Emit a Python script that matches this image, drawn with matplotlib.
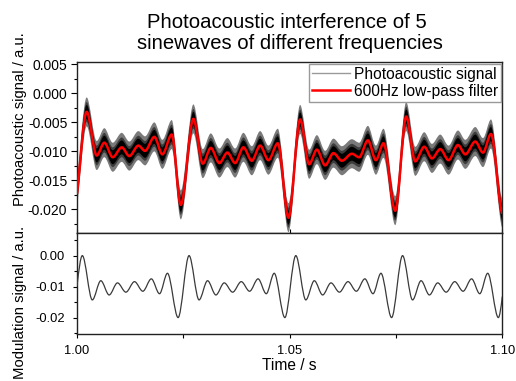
import numpy as np
import matplotlib
matplotlib.use("Agg")
import matplotlib.pyplot as plt
from matplotlib.path import Path
from matplotlib.patches import PathPatch
from matplotlib.lines import Line2D
from matplotlib.ticker import MultipleLocator, FixedLocator, FormatStrFormatter

plt.rcParams['font.family'] = ['Liberation Sans', 'DejaVu Sans']
plt.rcParams['axes.unicode_minus'] = False
plt.rcParams['hatch.linewidth'] = 0.7

# ---------------- data (extrema of the curves) ----------------
# 600 Hz low-pass filtered photoacoustic signal (upper panel)
filt_time = [1.0000,
             1.00228, 1.00463, 1.00643, 1.00840, 1.01052, 1.01230, 1.01443, 1.01600, 1.01819, 1.02007, 1.02228, 1.02440,
             1.02737, 1.02957, 1.03146, 1.03348, 1.03536, 1.03718, 1.03913, 1.04110, 1.04306, 1.04501, 1.04722, 1.04972,
             1.05247, 1.05459, 1.05640, 1.05835, 1.06030, 1.06228, 1.06463, 1.06635, 1.06840, 1.07028, 1.07207, 1.07482,
             1.07741, 1.07953, 1.08165, 1.08346, 1.08541, 1.08737, 1.08958, 1.09130, 1.09365, 1.09546, 1.09734,
             1.1000]
filt_value = [-0.0173,
              -0.0032, -0.0107, -0.0085, -0.0110, -0.0093, -0.0108, -0.0090, -0.0099, -0.0075, -0.0105, -0.0071, -0.0192,
              -0.0044, -0.0121, -0.0094, -0.0120, -0.0102, -0.0120, -0.0093, -0.0116, -0.0090, -0.0115, -0.0086, -0.0214,
              -0.0045, -0.0122, -0.0097, -0.0124, -0.0103, -0.0116, -0.0104, -0.0110, -0.0081, -0.0115, -0.0086, -0.0202,
              -0.0040, -0.0117, -0.0092, -0.0112, -0.0096, -0.0115, -0.0089, -0.0105, -0.0083, -0.0102, -0.0070,
              -0.0207]

# modulation signal (lower panel)
mod_time = [1.0000,
            1.00125, 1.00360, 1.00560, 1.00756, 1.00952, 1.01150, 1.01352, 1.01548, 1.01748, 1.01940, 1.02127, 1.02377,
            1.02635, 1.02870, 1.03070, 1.03266, 1.03462, 1.03660, 1.03862, 1.04058, 1.04258, 1.04450, 1.04637, 1.04887,
            1.05145, 1.05380, 1.05580, 1.05776, 1.05972, 1.06170, 1.06372, 1.06568, 1.06768, 1.06960, 1.07147, 1.07397,
            1.07655, 1.07890, 1.08090, 1.08286, 1.08482, 1.08680, 1.08882, 1.09078, 1.09278, 1.09470, 1.09657, 1.09907,
            1.1000]
mod_value = [-0.0098,
             0.0000, -0.0143, -0.0081, -0.0127, -0.0088, -0.0118, -0.0084, -0.0115, -0.0075, -0.0123, -0.0057, -0.0200,
             0.0000, -0.0143, -0.0081, -0.0127, -0.0088, -0.0118, -0.0084, -0.0115, -0.0075, -0.0123, -0.0057, -0.0200,
             0.0000, -0.0143, -0.0081, -0.0127, -0.0088, -0.0118, -0.0084, -0.0115, -0.0075, -0.0123, -0.0057, -0.0200,
             0.0000, -0.0143, -0.0081, -0.0127, -0.0088, -0.0118, -0.0084, -0.0115, -0.0075, -0.0123, -0.0057, -0.0200,
             -0.0132]

x_ticks = [1.00, 1.05, 1.10]
x_minor = [1.025, 1.075]
legend_labels = ["Photoacoustic signal", "600Hz low-pass filter"]
title_lines = ["Photoacoustic interference of 5", "sinewaves of different frequencies"]


# ---------------- smooth (Bezier) connection of the read extrema ----------------
def segments(t, v, k_start, k_end):
    t = np.asarray(t, float)
    v = np.asarray(v, float)
    s = np.zeros_like(t)
    s[0] = k_start * (v[1] - v[0]) / (t[1] - t[0])
    s[-1] = k_end * (v[-1] - v[-2]) / (t[-1] - t[-2])
    segs = []
    for i in range(len(t) - 1):
        dt = t[i + 1] - t[i]
        p0 = (t[i], v[i])
        c1 = (t[i] + dt / 3, v[i] + s[i] * dt / 3)
        c2 = (t[i + 1] - dt / 3, v[i + 1] - s[i + 1] * dt / 3)
        p1 = (t[i + 1], v[i + 1])
        segs.append((p0, c1, c2, p1))
    return segs


def line_path(segs):
    verts = [segs[0][0]]
    codes = [Path.MOVETO]
    for p0, c1, c2, p1 in segs:
        verts += [c1, c2, p1]
        codes += [Path.CURVE4] * 3
    return Path(verts, codes)


def band_path(segs, w):
    up = lambda p: (p[0], p[1] + w)
    dn = lambda p: (p[0], p[1] - w)
    verts = [up(segs[0][0])]
    codes = [Path.MOVETO]
    for p0, c1, c2, p1 in segs:
        verts += [up(c1), up(c2), up(p1)]
        codes += [Path.CURVE4] * 3
    verts.append(dn(segs[-1][3]))
    codes.append(Path.LINETO)
    for p0, c1, c2, p1 in reversed(segs):
        verts += [dn(c2), dn(c1), dn(p0)]
        codes += [Path.CURVE4] * 3
    verts.append(verts[0])
    codes.append(Path.CLOSEPOLY)
    return Path(verts, codes)


# ---------------- figure ----------------
W, H = 516, 381
fig = plt.figure(figsize=(W / 100, H / 100), dpi=100)
left, right = 77 / W, 502.3 / W
ax1 = fig.add_axes([left, 1 - 233.3 / H, right - left, (233.3 - 62) / H])
ax2 = fig.add_axes([left, 1 - 334 / H, right - left, (334 - 233.3) / H])

# upper panel: noisy photoacoustic signal rendered as a dense band around the filtered curve
fsegs = segments(filt_time, filt_value, 1.0, 0.2)
ax1.add_patch(PathPatch(band_path(fsegs, 0.0025), facecolor='none', edgecolor='#7a7a7a',
                        hatch='|' * 28, lw=0, zorder=2))
ax1.add_patch(PathPatch(band_path(fsegs, 0.0017), facecolor='#3c3c3c', edgecolor='none', zorder=2))
ax1.add_patch(PathPatch(band_path(fsegs, 0.0012), facecolor='#000000', edgecolor='none', zorder=2))
ax1.add_patch(PathPatch(line_path(fsegs), facecolor='none', edgecolor='#ff0000', lw=1.8, zorder=3))
ax1.set_xlim(1.0, 1.1)
ax1.set_ylim(-0.0241, 0.0054)
ax1.yaxis.set_major_locator(MultipleLocator(0.005))
ax1.yaxis.set_minor_locator(MultipleLocator(0.0025))
ax1.yaxis.set_major_formatter(FormatStrFormatter('%.3f'))
ax1.xaxis.set_major_locator(FixedLocator(x_ticks))
ax1.tick_params(axis='x', which='both', direction='in', length=3, labelbottom=False)
ax1.tick_params(axis='y', which='major', direction='out', length=4, width=0.8, labelsize=10, pad=3)
ax1.tick_params(axis='y', which='minor', direction='out', length=2.2, width=0.8)

handles = [Line2D([], [], color='#9a9a9a', lw=1.0), Line2D([], [], color='#ff0000', lw=1.8)]
leg = ax1.legend(handles, legend_labels, loc='upper right', bbox_to_anchor=(1.0, 1.0),
                 borderaxespad=0.1, fontsize=11.2, handlelength=2.4, handletextpad=0.25,
                 borderpad=0.2, labelspacing=0.12, fancybox=False, framealpha=1)
leg.get_frame().set_edgecolor('#999999')
leg.get_frame().set_linewidth(1.0)
leg.set_zorder(5)

# lower panel
msegs = segments(mod_time, mod_value, 1.5, 1.6)
ax2.add_patch(PathPatch(line_path(msegs), facecolor='none', edgecolor='#3a3a3a', lw=0.9, zorder=3))
ax2.set_xlim(1.0, 1.1)
ax2.set_ylim(-0.0253, 0.0072)
ax2.yaxis.set_major_locator(MultipleLocator(0.01))
ax2.yaxis.set_minor_locator(MultipleLocator(0.005))
ax2.yaxis.set_major_formatter(FormatStrFormatter('%.2f'))
ax2.xaxis.set_major_locator(FixedLocator(x_ticks))
ax2.xaxis.set_minor_locator(FixedLocator(x_minor))
ax2.xaxis.set_major_formatter(FormatStrFormatter('%.2f'))
ax2.tick_params(axis='both', which='major', direction='out', length=3, width=0.8, labelsize=9.3)
ax2.tick_params(axis='y', which='major', pad=6)
ax2.tick_params(axis='x', which='major', pad=5)
ax2.tick_params(axis='both', which='minor', direction='out', length=3, width=0.8)
ax2.tick_params(axis='y', which='minor', length=2.2)

for ax in (ax1, ax2):
    for sp in ax.spines.values():
        sp.set_linewidth(1.0)
        sp.set_color('#222222')

# texts
fig.text(287 / W, 1 - 27.7 / H, title_lines[0], ha='center', va='baseline', fontsize=14.6)
fig.text(290 / W, 1 - 49.3 / H, title_lines[1], ha='center', va='baseline', fontsize=14.6)
fig.text(289.5 / W, 1 - 370.5 / H, "Time / s", ha='center', va='baseline', fontsize=11.2)
fig.text(20 / W, 1 - 119 / H, "Photoacoustic signal / a.u.", rotation=90, ha='center', va='center', fontsize=10.7)
fig.text(20 / W, 1 - 302.5 / H, "Modulation signal / a.u.", rotation=90, ha='center', va='center', fontsize=10.7)

fig.savefig("out.png", dpi=100)
